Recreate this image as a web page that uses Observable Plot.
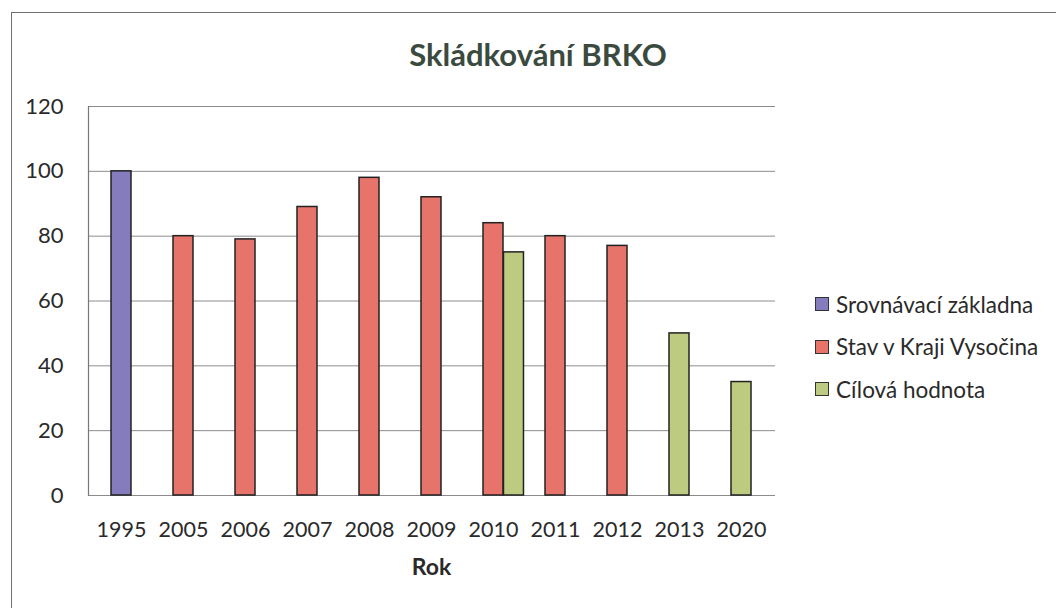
<!DOCTYPE html>
<html>
<head>
<meta charset="utf-8">
<script src="https://cdn.jsdelivr.net/npm/d3@7"></script>
<script src="https://cdn.jsdelivr.net/npm/@observablehq/plot@0.6"></script>
<style>
  html, body { margin: 0; padding: 0; background: #fff; }
  body { width: 1056px; height: 608px; position: relative; overflow: hidden; font-family: Lato, "Open Sans", sans-serif; }
  #border { position: absolute; left: 11px; top: 12px; width: 1200px; height: 800px; border-left: 1.5px solid #6f6f6f; border-top: 1.5px solid #6f6f6f; }
  #title { position: absolute; left: 0; width: 1076px; top: 36px; text-align: center; font-weight: 700; font-size: 31px; line-height: 36px; color: #3b4a3e; }
  #chart { position: absolute; left: 0; top: 80px; }
  #xlabel { position: absolute; left: 88px; width: 687px; top: 553px; text-align: center; font-weight: 700; font-size: 23px; line-height: 26px; color: #2a2a2a; }
  #legend { position: absolute; left: 815px; top: 292px; }
  .item { display: flex; align-items: center; height: 24px; margin-bottom: 18.5px; font-size: 22.5px; color: #2a2a2a; }
  .sw { width: 12px; height: 12px; border: 1px solid #333; margin-right: 7px; flex: none; }
</style>
</head>
<body>
<div id="border"></div>
<div id="title">Skládkování BRKO</div>
<div id="chart"></div>
<div id="xlabel">Rok</div>
<div id="legend"></div>
<script>
const years = ["1995", "2005", "2006", "2007", "2008", "2009", "2010", "2011", "2012", "2013", "2020"];
const baseValues   = [100, null, null, null, null, null, null, null, null, null, null];
const stateValues  = [null, 80, 79, 89, 98, 92, 84, 80, 77, null, null];
const targetValues = [null, null, null, null, null, null, 75, null, null, 50, 35];
const seriesNames = ["Srovnávací základna", "Stav v Kraji Vysočina", "Cílová hodnota"];
const seriesColors = ["#847cbc", "#e6746b", "#bccb7f"];
const yTicks = [0, 20, 40, 60, 80, 100, 120];

const seriesValues = [baseValues, stateValues, targetValues];
const rows = [];
years.forEach((year, i) => {
  seriesValues.forEach((vals, s) => {
    if (vals[i] != null) {
      rows.push({year, series: seriesNames[s], value: vals[i], shifted: s === 2 && stateValues[i] != null});
    }
  });
});

const W = 780, H = 510, mL = 88, mR = 5, mT = 26, mB = 95;
const padInner = 0.672;
const bandwidth = (W - mL - mR) / years.length * (1 - padInner);

const plot = Plot.plot({
  width: W, height: H,
  marginLeft: mL, marginRight: mR, marginTop: mT, marginBottom: mB,
  style: {fontFamily: "Lato, 'Open Sans', sans-serif", fontSize: "21.5px", color: "#2a2a2a", background: "transparent", overflow: "visible"},
  x: {domain: years, paddingInner: padInner, paddingOuter: padInner / 2, label: null},
  y: {domain: [0, 120], label: null},
  color: {domain: seriesNames, range: seriesColors},
  marks: [
    Plot.gridY(yTicks, {stroke: "#8c8c8c", strokeOpacity: 1, strokeWidth: 1}),
    Plot.frame({anchor: "left", stroke: "#777", strokeWidth: 1.2}),
    Plot.barY(rows, {filter: d => !d.shifted, x: "year", y: "value", fill: "series", stroke: "#222", strokeWidth: 1.5}),
    Plot.barY(rows, {filter: d => d.shifted, x: "year", y: "value", fill: "series", stroke: "#222", strokeWidth: 1.5, dx: bandwidth}),
    Plot.axisY({ticks: yTicks, tickSize: 0, tickPadding: 25, label: null, fontSize: 22}),
    Plot.axisX({tickSize: 0, tickPadding: 26, label: null})
  ]
});
document.getElementById("chart").appendChild(plot);

const legend = document.getElementById("legend");
seriesNames.forEach((name, i) => {
  const item = document.createElement("div");
  item.className = "item";
  const sw = document.createElement("div");
  sw.className = "sw";
  sw.style.background = seriesColors[i];
  const label = document.createElement("span");
  label.textContent = name;
  item.appendChild(sw);
  item.appendChild(label);
  legend.appendChild(item);
});
</script>
</body>
</html>
